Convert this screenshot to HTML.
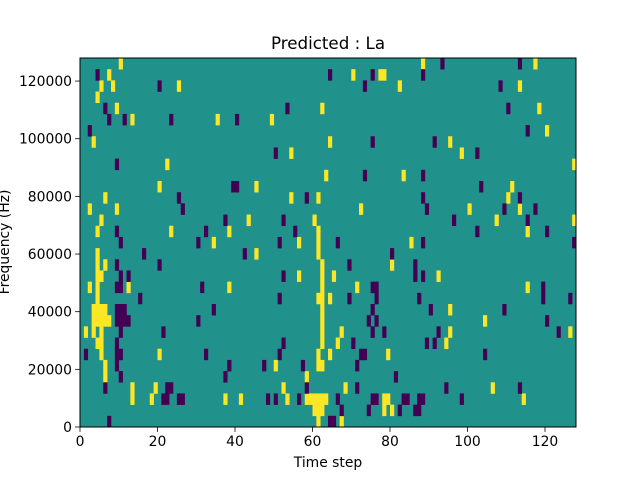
<!DOCTYPE html>
<html><head><meta charset="utf-8"><style>
body{margin:0;background:#fff;}
svg{display:block;font-family:"DejaVu Sans","Liberation Sans",sans-serif;}
</style></head><body>
<svg id="chart" width="640" height="480" xmlns="http://www.w3.org/2000/svg">
<rect width="640" height="480" fill="#fff"/>
<text x="328" y="49" text-anchor="middle" font-size="16.7">Predicted : La</text>
<g id="plot"></g>
<g id="axes"></g>
<text x="328" y="467" text-anchor="middle" font-size="13.9">Time step</text>
<text transform="translate(9,242) rotate(-90)" text-anchor="middle" font-size="13.9">Frequency (Hz)</text>
</svg>
<script>
const nTimes = 128;
const nBins = 33;
const maxFreq = 128000;
const xTicks = [0,20,40,60,80,100,120];
const yTicks = [0,20000,40000,60000,80000,100000,120000];
// rows listed from top (row 0 = highest frequency bin)
const yellowRows = [
[10,88,117],[7,70,77,78],[5,8,25,82,113],[4],[9,62,118],[13,35,49],[120],[3,64,95],
[54,98],[22,127],[63,83],[20,45,111],[6,54,61,110],[2,9,72,100,113],[5,43,60,107,127],
[4,23,38,61,115],[34,56,61,85],[4,45,61],[4,6,62,80],[4,5,56,62,65,92],[2,4,12,38,62,71,115],
[4,61,62,64],[3,4,5,6,62,95],[3,4,5,6,7,62,104],[1,3,5,62,67,95,126],[4,5,62,66,94],
[5,20,61,64,79],[6,50,61,62],[6,58],[13,19,52,68,106],
[13,18,37,41,53,58,59,60,61,62,63,78,79,114],[60,61,62,78,80],[61,67]
];
const purpleRows = [
[93,113],[4,64,75,88],[20,73,108],[],[6,53,110],[7,11,23,40],[2,115],[75,91],
[50,102],[9],[73,88],[39,40,103],[25,58,88,113],[26,89,109,117],[37,52,96,115],
[9,32,55,102,120],[10,30,51,66,88,127],[16,42,80],[9,20,69,86],[10,12,52,86,88],
[9,10,31,75,76,119],[15,51,69,76,87,119,126],[9,10,11,34,75,90,109],
[9,10,11,12,30,74,76,120],[10,21,75,78,92,123],[9,52,70,89,91],
[1,9,10,32,51,72,73,104],[9,38,47,57,71],[10,37,81],[6,22,23,58,71,94,113],
[21,22,25,26,48,50,56,66,75,76,83,84,87,88,98],[67,74,82,86,87],[7,64,65]
];
const X0=80,X1=576,Y0=58,Y1=427;
const xs = t => X0 + t*(X1-X0)/nTimes;
const yb = b => Y1 - b*(Y1-Y0)/nBins;
const yf = f => Y1 - f*(Y1-Y0)/maxFreq;
const NS="http://www.w3.org/2000/svg";
const plot=document.getElementById('plot');
const axes=document.getElementById('axes');
function mk(tag,attrs,parent){const e=document.createElementNS(NS,tag);for(const k in attrs)e.setAttribute(k,attrs[k]);parent.appendChild(e);return e;}
const bg=mk('rect',{x:X0,y:Y0,width:X1-X0,height:Y1-Y0,fill:'#21918c'},plot);


function drawRows(rows,color,name){
  rows.forEach((cols,row)=>{
    const bin=nBins-1-row;
    cols.forEach(t=>{
      const c=mk('rect',{x:xs(t),y:yb(bin+1),width:xs(t+1)-xs(t)+0.3,height:yb(bin)-yb(bin+1)+0.3,fill:color},plot);
      
      
    });
  });
}
drawRows(yellowRows,'#fde725','heatmap-cell-high');
drawRows(purpleRows,'#440154','heatmap-cell-low');
const frame=mk('rect',{x:X0,y:Y0,width:X1-X0,height:Y1-Y0,fill:'none',stroke:'#000','stroke-width':1},axes);


xTicks.forEach(v=>{
  const x=xs(v);
  mk('line',{x1:x,x2:x,y1:Y1,y2:Y1+4.9,stroke:'#000','stroke-width':0.8},axes);
  const t=mk('text',{x:x,y:Y1+19,'text-anchor':'middle','font-size':13.9},axes);
  t.textContent=v;
  
  
});
yTicks.forEach(v=>{
  const y=yf(v);
  mk('line',{x1:X0-4.9,x2:X0,y1:y,y2:y,stroke:'#000','stroke-width':0.8},axes);
  const t=mk('text',{x:X0-8,y:y+5,'text-anchor':'end','font-size':13.9},axes);
  t.textContent=v;
  
  
});
</script>
</body></html>
